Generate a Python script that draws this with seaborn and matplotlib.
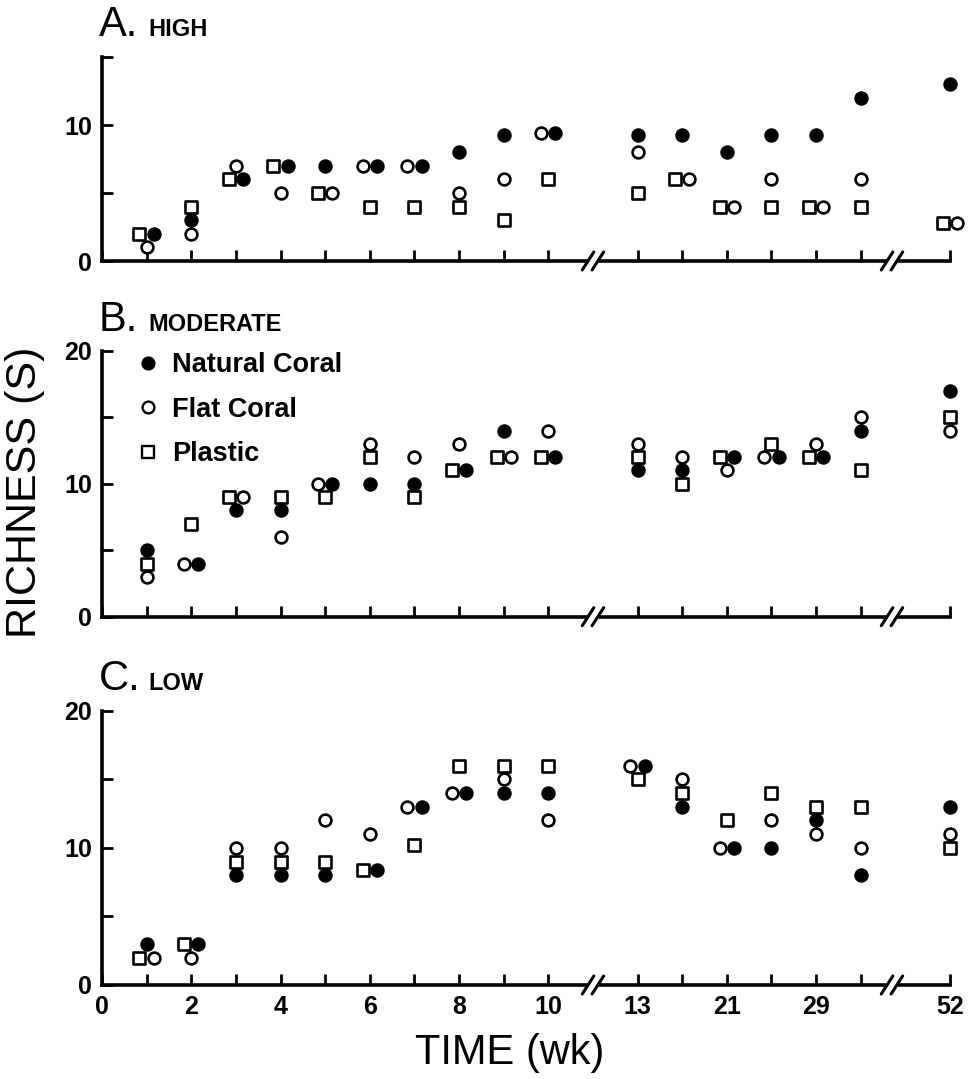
import numpy as np
import pandas as pd
import matplotlib.pyplot as plt
import matplotlib.transforms as mtransforms
from matplotlib.lines import Line2D
import seaborn as sns

# sampling weeks (axis is broken after week 10 and after week 33)
weeks = [1, 2, 3, 4, 5, 6, 7, 8, 9, 10, 13, 17, 21, 25, 29, 33, 52]
substrates = ['Natural Coral', 'Flat Coral', 'Plastic']

# A. HIGH
high_natural = [2, 3, 6, 7, 7, 7, 7, 8, 9.3, 9.4, 9.3, 9.3, 8, 9.3, 9.3, 12, 13]
high_flat = [1, 2, 7, 5, 5, 7, 7, 5, 6, 9.4, 8, 6, 4, 6, 4, 6, 2.8]
high_plastic = [2, 4, 6, 7, 5, 4, 4, 4, 3, 6, 5, 6, 4, 4, 4, 4, 2.8]

# B. MODERATE
mod_natural = [5, 4, 8, 8, 10, 10, 10, 11, 14, 12, 11, 11, 12, 12, 12, 14, 17]
mod_flat = [3, 4, 9, 6, 10, 13, 12, 13, 12, 14, 13, 12, 11, 12, 13, 15, 14]
mod_plastic = [4, 7, 9, 9, 9, 12, 9, 11, 12, 12, 12, 10, 12, 13, 12, 11, 15]

# C. LOW
low_natural = [3, 3, 8, 8, 8, 8.4, 13, 14, 14, 14, 16, 13, 10, 10, 12, 8, 13]
low_flat = [2, 2, 10, 10, 12, 11, 13, 14, 15, 12, 16, 15, 10, 12, 11, 10, 11]
low_plastic = [2, 3, 9, 9, 9, 8.4, 10.2, 16, 16, 16, 15, 14, 12, 14, 13, 13, 10]

# axis slots: None marks a break
axis_slots = [0, 1, 2, 3, 4, 5, 6, 7, 8, 9, 10, None, 13, 17, 21, 25, 29, 33, None, 52]
labelled_weeks = [0, 2, 4, 6, 8, 10, 13, 21, 29, 52]

slot_of = {w: i for i, w in enumerate(axis_slots) if w is not None}
tick_pos = [slot_of[w] for w in axis_slots if w is not None]
tick_lab = [str(w) if w in labelled_weeks else '' for w in axis_slots if w is not None]

panels = [
    ('A.', 'HIGH', 15, high_natural, high_flat, high_plastic),
    ('B.', 'MODERATE', 20, mod_natural, mod_flat, mod_plastic),
    ('C.', 'LOW', 20, low_natural, low_flat, low_plastic),
]

styles = {'Natural Coral': ('o', 'black'),
          'Flat Coral': ('o', 'white'),
          'Plastic': ('s', 'white')}
dodge_order = {'Plastic': 0, 'Flat Coral': 1, 'Natural Coral': 2}


def build_frame(natural, flat, plastic, half=0.16):
    df = pd.DataFrame({
        'week': weeks * 3,
        'richness': natural + flat + plastic,
        'substrate': np.repeat(substrates, len(weeks)),
    })
    df['x'] = df['week'].map(slot_of).astype(float)
    df['rank'] = df['substrate'].map(dodge_order)
    df['level'] = df['richness'].round(0)
    # points that sit on top of each other get nudged sideways
    for _, grp in df.groupby(['week', 'level']):
        if len(grp) > 1:
            grp = grp.sort_values('rank')
            offs = (np.arange(len(grp)) - (len(grp) - 1) / 2) * 2 * half
            df.loc[grp.index, 'x'] += offs
    return df


sns.set_theme(style='ticks')
plt.rcParams['font.family'] = ['Liberation Sans', 'DejaVu Sans']

W, H = 971, 1079
fig = plt.figure(figsize=(W / 100, H / 100), dpi=100)

# axes boxes in pixels: (top, bottom)
boxes = [(57, 261), (350.7, 616.7), (710.7, 985)]
left_px, right_px = 102, 950
title_base = [36, 331, 690]

for i, (letter, name, ytop, nat, flt, pla) in enumerate(panels):
    top, bot = boxes[i]
    ax = fig.add_axes([left_px / W, 1 - bot / H, (right_px - left_px) / W, (bot - top) / H])
    df = build_frame(nat, flt, pla)

    for sub in substrates:
        marker, face = styles[sub]
        sns.scatterplot(data=df[df['substrate'] == sub], x='x', y='richness',
                        marker=marker, s=72, color=face, edgecolor='black',
                        linewidth=1.9, ax=ax, clip_on=False, zorder=3, legend=False)

    ax.set_xlim(0, 19)
    ax.set_ylim(0, ytop)
    ax.set_xlabel('')
    ax.set_ylabel('')
    sns.despine(ax=ax)
    for sp in ('left', 'bottom'):
        ax.spines[sp].set_linewidth(2.6)
        ax.spines[sp].set_color('black')

    ax.set_xticks(tick_pos)
    ax.set_xticklabels(tick_lab if i == 2 else [''] * len(tick_pos))
    yt = list(range(0, ytop + 1, 5))
    ax.set_yticks(yt)
    ax.set_yticklabels([str(v) if v % 10 == 0 else '' for v in yt])
    ax.tick_params(direction='in', length=8, width=2, color='black',
                   labelsize=18, pad=7, labelcolor='black')
    for lab in ax.get_xticklabels() + ax.get_yticklabels():
        lab.set_fontweight('bold')

    # break marks on the time axis
    h_px = bot - top
    trans = mtransforms.blended_transform_factory(ax.transData, ax.transAxes)
    for bx in (11, 17.7):
        ax.plot([bx - 0.12, bx + 0.12], [0, 0], color='white', lw=5,
                transform=trans, clip_on=False, zorder=4, solid_capstyle='butt')
        for dx in (-0.11, 0.11):
            ax.plot([bx + dx - 0.13, bx + dx + 0.13], [-9 / h_px, 9 / h_px],
                    color='black', lw=2.2, transform=trans, clip_on=False, zorder=5)

    fig.text(99 / W, 1 - title_base[i] / H, letter, fontsize=30,
             va='baseline', ha='left', color='black')
    fig.text(148 / W, 1 - title_base[i] / H, name, fontsize=17, fontweight='bold',
             va='baseline', ha='left', color='black')

    if i == 1:
        handles = [Line2D([], [], ls='none', marker=styles[s][0], markersize=8.5,
                          markerfacecolor=styles[s][1], markeredgecolor='black',
                          markeredgewidth=1.7) for s in substrates]
        ax.legend(handles, substrates, loc='upper left', frameon=False,
                  bbox_to_anchor=(0.025, 1.035), prop={'weight': 'bold', 'size': 19.5},
                  handletextpad=0.4, labelspacing=0.68, handlelength=1.0,
                  borderaxespad=0, labelcolor='black')

fig.text(25 / W, 1 - 492 / H, 'RICHNESS (S)', rotation=90, fontsize=31,
         ha='center', va='center', color='black')
fig.text(510 / W, 1 - 1053 / H, 'TIME (wk)', fontsize=30,
         ha='center', va='center', color='black')

fig.savefig('out.png', dpi=100)
